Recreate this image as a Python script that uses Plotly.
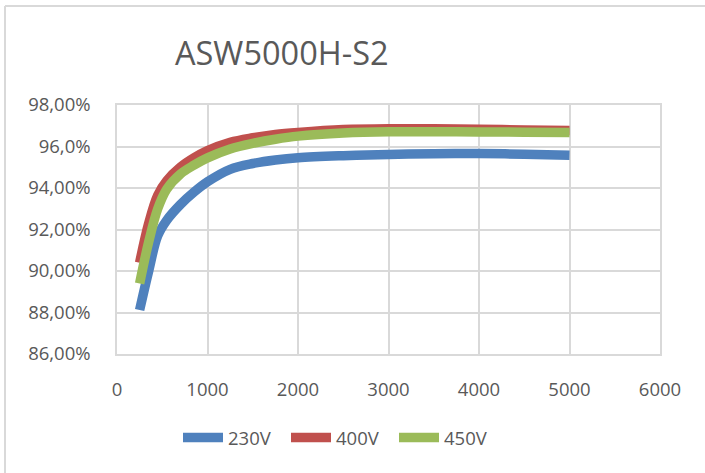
import plotly.graph_objects as go

load_w = [250, 350, 450, 550, 700, 850, 1000, 1250, 1500, 1750, 2000, 2500, 3000, 3500, 4000, 4500, 5000]
eff_230v = [88.12, 90.0, 91.7, 92.45, 93.2, 93.8, 94.3, 94.9, 95.18, 95.35, 95.46, 95.56, 95.62, 95.65, 95.66, 95.63, 95.58]
eff_400v = [90.4, 92.3, 93.65, 94.35, 95.0, 95.45, 95.8, 96.2, 96.42, 96.58, 96.68, 96.82, 96.86, 96.85, 96.83, 96.8, 96.77]
eff_450v = [89.4, 91.4, 93.0, 93.95, 94.67, 95.1, 95.45, 95.88, 96.15, 96.35, 96.5, 96.65, 96.71, 96.71, 96.7, 96.69, 96.68]

series_names = ["230V", "400V", "450V"]
series_colors = ["#4F81BD", "#C0504D", "#9BBB59"]

y_tickvals = [86, 88, 90, 92, 94, 96, 98]
y_ticktext = ["86,00%", "88,00%", "90,00%", "92,00%", "94,00%", "96,0%", "98,00%"]
x_tickvals = [0, 1000, 2000, 3000, 4000, 5000, 6000]

FONT = "Open Sans"
TXT = "#595959"
GRID = "#D9D9D9"

fig = go.Figure()
for name, ys, col in zip(series_names, [eff_230v, eff_400v, eff_450v], series_colors):
    fig.add_trace(go.Scatter(
        x=load_w, y=ys, name=name, mode="lines",
        line=dict(color=col, width=9.5, shape="spline", smoothing=1.0),
    ))

W, H = 705, 473
L, R, T, B = 117, 45, 105, 119

fig.update_layout(
    width=W, height=H,
    margin=dict(l=L, r=R, t=T, b=B),
    paper_bgcolor="white", plot_bgcolor="white",
    font=dict(family=FONT, color=TXT, size=18.5),
    title=dict(text="ASW5000H-S2", x=175 / W, xanchor="left", xref="container",
               y=1 - 54 / H, yanchor="middle", yref="container",
               font=dict(family=FONT, size=32.5, color=TXT)),
    showlegend=True,
    legend=dict(orientation="h", x=(340 - L) / (W - L - R), xanchor="center",
                y=(H - B - 438) / (H - T - B), yanchor="middle",
                font=dict(family=FONT, size=18.5, color=TXT),
                itemwidth=40, entrywidth=53, entrywidthmode="pixels",
                bgcolor="rgba(0,0,0,0)"),
    xaxis=dict(range=[0, 6000], tickvals=x_tickvals, showgrid=True, gridcolor=GRID,
               gridwidth=1.5, showline=True, linecolor=GRID, linewidth=1.5, mirror=True,
               zeroline=False, ticks="outside", ticklen=18, tickcolor="rgba(0,0,0,0)",
               tickfont=dict(family=FONT, size=18.5, color=TXT)),
    yaxis=dict(range=[86, 98], tickvals=y_tickvals, ticktext=y_ticktext, showgrid=True,
               gridcolor=GRID, gridwidth=1.5, showline=True, linecolor=GRID, linewidth=1.5,
               mirror=True, zeroline=False, ticks="outside", ticklen=21,
               tickcolor="rgba(0,0,0,0)", tickfont=dict(family=FONT, size=18.5, color=TXT)),
)

pw, ph = W - L - R, H - T - B
px = lambda v: (v - L) / pw
py = lambda v: (H - B - v) / ph
fig.add_shape(type="line", xref="paper", yref="paper", x0=px(5), x1=px(W + 5),
              y0=py(6), y1=py(6), line=dict(color=GRID, width=2))
fig.add_shape(type="line", xref="paper", yref="paper", x0=px(5), x1=px(5),
              y0=py(6), y1=py(H + 5), line=dict(color=GRID, width=2))

fig.write_html("out.html", config={"displayModeBar": False},
               post_script="document.body.style.margin='0';document.body.style.overflow='hidden';")
